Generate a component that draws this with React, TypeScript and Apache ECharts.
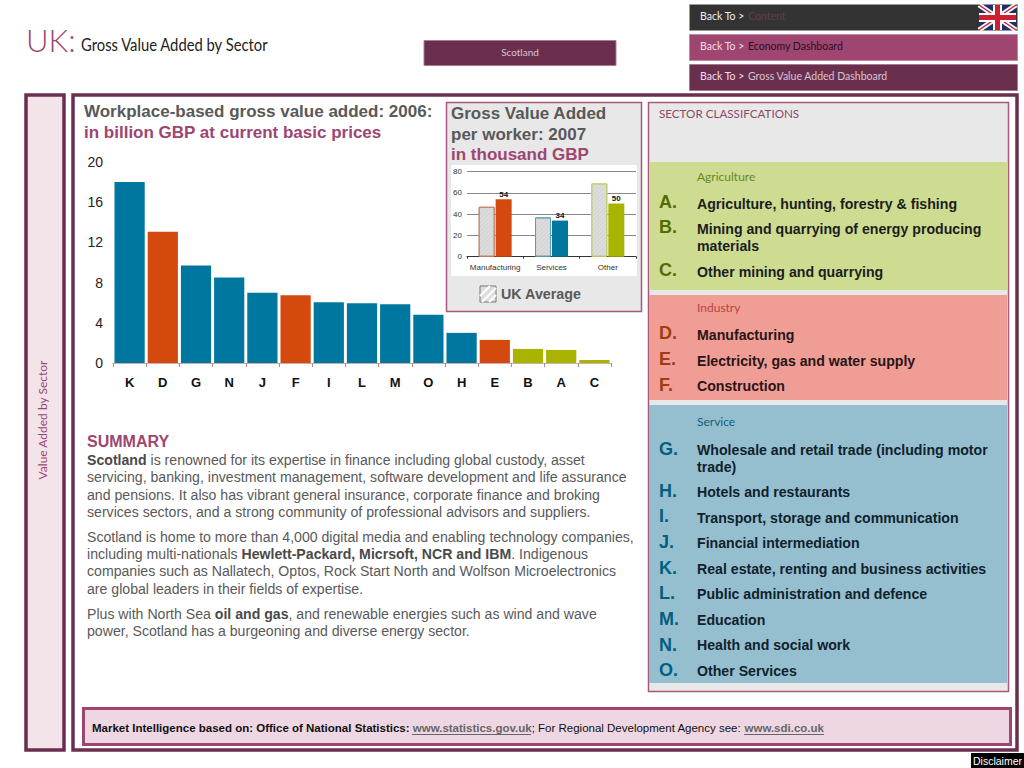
import React, { useEffect, useRef } from "react";
import * as echarts from "echarts";

const sectorLetters = ["K", "D", "G", "N", "J", "F", "I", "L", "M", "O", "H", "E", "B", "A", "C"];
const sectorValues = [18, 13.05, 9.7, 8.5, 7, 6.75, 6.05, 5.95, 5.85, 4.8, 3, 2.3, 1.4, 1.3, 0.3];
const sectorGroups = ["s", "i", "s", "s", "s", "i", "s", "s", "s", "s", "s", "i", "a", "a", "a"];
const valueTicks = [0, 4, 8, 12, 16, 20];

const workerCategories = ["Manufacturing", "Services", "Other"];
const ukAverage = [47, 37, 69];
const scotland = [54, 34, 50];
const workerGroups = ["i", "s", "a"];

const agricultureItems: [string, number, string[], number[]][] = [
  ["A.", 202, ["Agriculture, hunting, forestry & fishing"], [204]],
  ["B.", 227, ["Mining and quarrying of energy producing", "materials"], [229, 246]],
  ["C.", 270, ["Other mining and quarrying"], [272]],
];
const industryItems: [string, number, string[], number[]][] = [
  ["D.", 333, ["Manufacturing"], [335]],
  ["E.", 359, ["Electricity, gas and water supply"], [361]],
  ["F.", 385, ["Construction"], [386]],
];
const serviceItems: [string, number, string[], number[]][] = [
  ["G.", 449, ["Wholesale and retail trade (including motor", "trade)"], [450, 467]],
  ["H.", 491, ["Hotels and restaurants"], [492]],
  ["I.", 516, ["Transport, storage and communication"], [518]],
  ["J.", 542, ["Financial intermediation"], [543]],
  ["K.", 568, ["Real estate, renting and business activities"], [569]],
  ["L.", 593, ["Public administration and defence"], [594]],
  ["M.", 619, ["Education"], [620]],
  ["N.", 645, ["Health and social work"], [645]],
  ["O.", 670, ["Other Services"], [671]],
];

const summaryLines: [number, string][] = [
  [460, "{b|Scotland}{r| is renowned for its expertise in finance including global custody, asset}"],
  [477, "{r|servicing, banking, investment management, software development and life assurance}"],
  [494.5, "{r|and pensions. It also has vibrant general insurance, corporate finance and broking}"],
  [511.5, "{r|services sectors, and a strong community of professional advisors and suppliers.}"],
  [536.5, "{r|Scotland is home to more than 4,000 digital media and enabling technology companies,}"],
  [554, "{r|including multi-nationals }{b|Hewlett-Packard, Micrsoft, NCR and IBM}{r|. Indigenous}"],
  [571, "{r|companies such as Nallatech, Optos, Rock Start North and Wolfson Microelectronics}"],
  [588.5, "{r|are global leaders in their fields of expertise.}"],
  [614, "{r|Plus with North Sea }{b|oil and gas}{r|, and renewable energies such as wind and wave}"],
  [631, "{r|power, Scotland has a burgeoning and diverse energy sector.}"],
];

const DARK = "#6b2f4e";
const MID = "#9e4570";
const GREY = "#595959";
const ARIAL = "'Liberation Sans', Arial, sans-serif";
const HUMAN = "Lato, sans-serif";
const groupColor: Record<string, string> = { s: "#00779e", i: "#d4490e", a: "#a8b400" };
const groupBorder: Record<string, string> = { s: "#5f9db3", i: "#c5826c", a: "#c3cd6e" };

const box = (x: number, y: number, w: number, h: number, fill: string, stroke?: string, lw = 0) => ({
  type: "rect",
  shape: { x, y, width: w, height: h },
  style: { fill, stroke: stroke || "none", lineWidth: lw },
  silent: true,
});

const label = (
  text: string,
  x: number,
  y: number,
  fontSize: number,
  fill: string,
  fontWeight: string = "normal",
  fontFamily: string = ARIAL,
  align: string = "left",
  extra: any = {}
) => ({
  type: "text",
  x,
  y,
  silent: true,
  style: { text, fontSize, fill, fontWeight, fontFamily, align, verticalAlign: "middle" },
  ...extra,
});

const rule = (x1: number, y1: number, x2: number, y2: number, stroke: string, lineWidth: number) => ({
  type: "line",
  shape: { x1, y1, x2, y2 },
  style: { stroke, lineWidth },
  silent: true,
});

const listTexts = (items: [string, number, string[], number[]][], letterColor: string, textColor: string) =>
  items.flatMap(([letter, ly, lines, ys]) => [
    label(letter, 659, ly, 18, letterColor, "bold"),
    ...lines.map((t, i) => label(t, 697, ys[i], 14.15, textColor, "bold")),
  ]);

const richLine = (text: string, x: number, y: number, size: number, fill: string, boldFill: string) => ({
  type: "text",
  x,
  y,
  silent: true,
  style: {
    text,
    verticalAlign: "middle",
    rich: {
      r: { fontSize: size, fontFamily: ARIAL, fill, fontWeight: "normal" },
      b: { fontSize: size, fontFamily: ARIAL, fill: boldFill, fontWeight: "bold" },
      l: { fontSize: size, fontFamily: ARIAL, fill: "#666666", fontWeight: "bold" },
    },
  },
});

function buildOption() {
  const graphic: any[] = [
    label("UK:", 26, 39.5, 31, MID, "300", HUMAN),
    label("Gross Value Added by Sector", 81, 44.5, 17, "#222222", "normal", HUMAN, "left", { scaleX: 0.87 }),
    box(424, 40.5, 192, 25, DARK, "#b07a96", 1),
    label("Scotland", 520, 51.5, 10, "#d9c4d0", "normal", HUMAN, "center"),

    box(689.5, 4.5, 328, 26, "#333333", "#999999", 1),
    label("Back To >", 700, 15.5, 10.5, "#eeeeee", "normal", HUMAN),
    label("Content", 748, 15.5, 10.5, "#6b3a50", "normal", HUMAN),
    box(979, 5, 37, 25, "#1f2f6e"),
    rule(979, 5, 1016, 30, "#ffffff", 5),
    rule(1016, 5, 979, 30, "#ffffff", 5),
    rule(979, 5, 1016, 30, "#cc1f30", 1.5),
    rule(1016, 5, 979, 30, "#cc1f30", 1.5),
    rule(997.5, 5, 997.5, 30, "#ffffff", 9),
    rule(979, 17.5, 1016, 17.5, "#ffffff", 9),
    rule(997.5, 5, 997.5, 30, "#cc1f30", 5),
    rule(979, 17.5, 1016, 17.5, "#cc1f30", 5),

    box(689.5, 34.5, 328, 26, MID, "#c08aa4", 1),
    label("Back To >", 700, 45.5, 10.5, "#f3dfe8", "normal", HUMAN),
    label("Economy Dashboard", 748, 45.5, 10.5, "#2a0f1e", "normal", HUMAN),
    box(689.5, 64.5, 328, 26, DARK, "#a97a92", 1),
    label("Back To >", 700, 75.5, 10.5, "#f3dfe8", "normal", HUMAN),
    label("Gross Value Added Dashboard", 748, 75.5, 10.5, "#d9c4d0", "normal", HUMAN),

    box(26, 95, 38, 655, "#f3e4ea", DARK, 3.5),
    label("Value Added by Sector", 42, 420, 12, MID, "normal", HUMAN, "center", { rotation: Math.PI / 2 }),
    box(73, 95, 944, 655, "#ffffff", DARK, 3.5),

    label("Workplace-based gross value added: 2006:", 84, 111, 17, GREY, "bold"),
    label("in billion GBP at current basic prices", 84, 132, 17, MID, "bold"),

    box(446.5, 102.5, 195, 209, "#e8e8e8", "#a8587c", 1.5),
    label("Gross Value Added", 451, 113, 17, GREY, "bold"),
    label("per worker: 2007", 451, 134, 17, GREY, "bold"),
    label("in thousand GBP", 451, 154, 17, MID, "bold"),
    box(451, 165, 186, 111, "#ffffff"),
    box(480, 286, 16, 16, "#dddddd", "#777777", 1),
    rule(480, 296, 490, 286, "#ffffff", 2),
    rule(482, 302, 496, 288, "#ffffff", 2),
    rule(489, 302, 496, 295, "#ffffff", 2),
    label("UK Average", 501, 294, 14.3, GREY, "bold"),

    label("SUMMARY", 87, 441.5, 16, MID, "bold"),
    ...summaryLines.map(([y, t]) => richLine(t, 87, y, 14.12, "#595959", "#4a4a4a")),

    box(648.5, 102.5, 360, 589, "#e8e8e8", "#a8587c", 1.5),
    label("SECTOR CLASSIFCATIONS", 659, 113, 12, "#8a4a6a", "normal", HUMAN, "left", { scaleX: 0.97 }),
    box(649, 162, 359, 128, "#cddc91"),
    box(649, 295, 358, 105, "#f09d96"),
    box(649, 405, 358, 278, "#95bfcf"),
    label("Agriculture", 697, 176, 12, "#6a8a20", "normal", HUMAN),
    label("Industry", 697, 307, 12, "#b5473c", "normal", HUMAN),
    label("Service", 697, 421, 12, "#11607a", "normal", HUMAN),
    ...listTexts(agricultureItems, "#556b00", "#1c1c1c"),
    ...listTexts(industryItems, "#a03c12", "#2a1515"),
    ...listTexts(serviceItems, "#00607f", "#10222c"),

    box(83.5, 708.5, 927, 36, "#eed7e3", MID, 3),
    richLine(
      "{b|Market Intelligence based on: Office of National Statistics: }{l|www.statistics.gov.uk}{r|; For Regional Development Agency see: }{l|www.sdi.co.uk}",
      92,
      728,
      11.5,
      "#111111",
      "#111111"
    ),
    rule(412, 734.5, 531, 734.5, "#666666", 1),
    rule(744, 734.5, 824, 734.5, "#666666", 1),

    box(971, 753, 53, 15, "#000000"),
    label("Disclaimer", 997.5, 761, 10.5, "#ffffff", "normal", ARIAL, "center"),
  ];

  return {
    animation: false,
    backgroundColor: "#ffffff",
    graphic,
    grid: [
      { left: 113, top: 162, width: 498, height: 201 },
      { left: 467, top: 171.7, width: 169, height: 85 },
    ],
    xAxis: [
      {
        type: "category",
        gridIndex: 0,
        data: sectorLetters,
        axisLine: { lineStyle: { color: "#c8b0b0", width: 1 } },
        axisTick: { show: true, length: 4, lineStyle: { color: "#b08a8a" } },
        axisLabel: { fontSize: 13, fontWeight: "bold", color: "#111111", fontFamily: ARIAL, margin: 13, interval: 0 },
      },
      {
        type: "category",
        gridIndex: 1,
        data: workerCategories,
        axisLine: { lineStyle: { color: "#333333", width: 1 } },
        axisTick: { show: true, length: 2, lineStyle: { color: "#333333" } },
        axisLabel: { fontSize: 8, color: "#333333", fontFamily: ARIAL, margin: 7, interval: 0 },
      },
    ],
    yAxis: [
      {
        type: "value",
        gridIndex: 0,
        min: 0,
        max: 20,
        interval: valueTicks[1] - valueTicks[0],
        axisLine: { show: false },
        axisTick: { show: false },
        splitLine: { show: false },
        axisLabel: { fontSize: 14, color: "#222222", fontFamily: ARIAL, margin: 10 },
      },
      {
        type: "value",
        gridIndex: 1,
        min: 0,
        max: 80,
        interval: 20,
        axisLine: { show: false },
        axisTick: { show: false },
        splitLine: { show: true, lineStyle: { color: "#888888", width: 1 } },
        axisLabel: { fontSize: 8, color: "#333333", fontFamily: ARIAL, margin: 5 },
      },
    ],
    series: [
      {
        type: "bar",
        xAxisIndex: 0,
        yAxisIndex: 0,
        barCategoryGap: "9%",
        data: sectorValues.map((value, i) => ({
          value,
          itemStyle: { color: groupColor[sectorGroups[i]] },
        })),
      },
      {
        type: "bar",
        name: "UK Average",
        xAxisIndex: 1,
        yAxisIndex: 1,
        barWidth: 16,
        barGap: "6%",
        data: ukAverage.map((value, i) => ({
          value,
          itemStyle: {
            color: "#d6d6d6",
            borderColor: groupBorder[workerGroups[i]],
            borderWidth: 1,
            decal: {
              symbol: "rect",
              color: "rgba(255,255,255,0.25)",
              dashArrayX: [1, 0],
              dashArrayY: [1, 2],
              rotation: -Math.PI / 4,
            },
          },
        })),
      },
      {
        type: "bar",
        name: "Scotland",
        xAxisIndex: 1,
        yAxisIndex: 1,
        barWidth: 16,
        label: { show: true, position: "top", distance: 1, fontSize: 8, fontWeight: "bold", color: "#111111", fontFamily: ARIAL },
        data: scotland.map((value, i) => ({
          value,
          itemStyle: { color: groupColor[workerGroups[i]] },
        })),
      },
    ],
  };
}

export default function App() {
  const ref = useRef<HTMLDivElement>(null);
  useEffect(() => {
    const chart = echarts.init(ref.current!, undefined, { renderer: "svg" });
    chart.setOption(buildOption() as any);
    return () => chart.dispose();
  }, []);
  return <div ref={ref} style={{ position: "fixed", left: 0, top: 0, width: 1024, height: 768 }} />;
}
